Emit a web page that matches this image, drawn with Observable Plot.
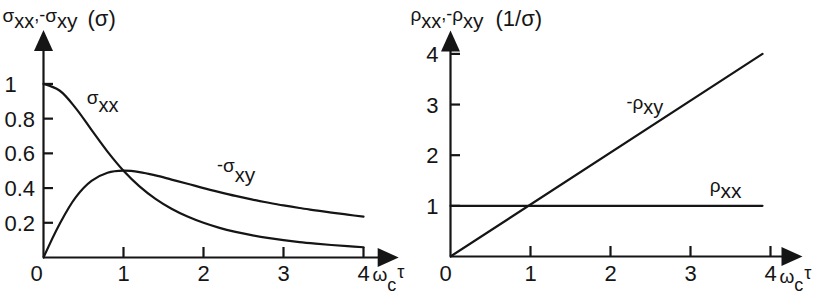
<!DOCTYPE html>
<html><head><meta charset="utf-8">
<script src="https://cdn.jsdelivr.net/npm/d3@7"></script>
<script src="https://cdn.jsdelivr.net/npm/@observablehq/plot@0.6"></script>
<style>
html,body{margin:0;padding:0;background:#fff;}
#chart{display:flex;width:821px;height:301px;overflow:hidden;}
#chart svg{overflow:visible;display:block;}
</style></head><body><div id="chart"></div>
<script>
// ---- data ----
const omegaTau   = [0, 0.2, 0.4, 0.6, 0.8, 1.0, 1.2, 1.4, 1.6, 1.8, 2.0, 2.2, 2.4, 2.6, 2.8, 3.0, 3.2, 3.4, 3.6, 3.8, 4.0];
const sigmaXX    = [1.000, 0.962, 0.862, 0.735, 0.610, 0.500, 0.410, 0.338, 0.281, 0.236, 0.200, 0.171, 0.148, 0.129, 0.113, 0.100, 0.089, 0.080, 0.072, 0.065, 0.059];
const negSigmaXY = [0.000, 0.192, 0.345, 0.441, 0.488, 0.500, 0.492, 0.473, 0.449, 0.425, 0.400, 0.377, 0.355, 0.335, 0.317, 0.300, 0.285, 0.272, 0.259, 0.247, 0.235];
const rhoOmegaTau = [0, 3.9];
const rhoXX       = [1, 1];
const negRhoXY    = [0, 4.0];
const xTicks        = [1, 2, 3, 4];
const xTickLabels   = ["1", "2", "3", "4"];
const sigmaYTicks   = [0.2, 0.4, 0.6, 0.8, 1];
const sigmaYLabels  = ["0.2", "0.4", "0.6", "0.8", "1"];
const rhoYTicks     = [1, 2, 3, 4];
const rhoYLabels    = ["1", "2", "3", "4"];
const originLabel   = "0";

const FONT = '"Liberation Sans", Arial, Helvetica, sans-serif';
const INK = "#151515";
const LW = 2.2;
const TICK_FS = 22;

const ctx = document.createElement("canvas").getContext("2d");
function textWidth(t, size) { ctx.font = `${size}px "Liberation Sans"`; return ctx.measureText(t).width; }

// a run of text pieces (main letters and subscripts) placed one after another
// parts: [text, fontSize, baselineShift, gapBefore]
function frameRun(m, x0, base0, parts) {
  let x = x0; const marks = [];
  for (const [t, size, shift, gap = 0] of parts) {
    x += gap;
    marks.push(Plot.text([t], {text: d => d, frameAnchor: "top-left", dx: x - m.left, dy: base0 + shift - m.top,
      textAnchor: "start", lineAnchor: "bottom", fontSize: size, fill: INK}));
    x += textWidth(t, size);
  }
  return marks;
}
function dataRun(xv, yv, parts) {
  let x = 0; const marks = [];
  for (const [t, size, shift, gap = 0] of parts) {
    x += gap;
    marks.push(Plot.text([t], {x: () => xv, y: () => yv, text: d => d, dx: x, dy: shift,
      textAnchor: "start", lineAnchor: "bottom", fontSize: size, fill: INK}));
    x += textWidth(t, size);
  }
  return marks;
}
function axes(xTip, yTip, yTicks, yLabels, ylabDx, ylabAnchor, zeroDx, xlabDy) {
  return [
    Plot.ruleY([0], {x1: 0, x2: xTip, insetRight: 12, stroke: INK, strokeWidth: LW}),
    Plot.ruleX([0], {y1: yTip, y2: 0, insetTop: 12, stroke: INK, strokeWidth: LW}),
    Plot.vector([0], {x: xTip, y: 0, length: 21, rotate: 90, anchor: "end", shape: "spike", r: 9.5, fill: INK, stroke: "none"}),
    Plot.vector([0], {x: 0, y: yTip, length: 21, rotate: 0, anchor: "end", shape: "spike", r: 9.5, fill: INK, stroke: "none"}),
    Plot.ruleX(xTicks, {x: d => d, y1: 0, y2: 0, insetBottom: 10, stroke: INK, strokeWidth: LW}),
    Plot.ruleY(yTicks, {y: d => d, x1: 0, x2: 0, insetLeft: 10, stroke: INK, strokeWidth: LW}),
    Plot.text(xTicks, {x: d => d, y: 0, text: (d, i) => xTickLabels[i], dy: xlabDy, lineAnchor: "bottom", textAnchor: "middle", fontSize: TICK_FS, fill: INK}),
    Plot.text([originLabel], {x: 0, y: 0, text: d => d, dx: zeroDx, dy: xlabDy, lineAnchor: "bottom", textAnchor: "middle", fontSize: TICK_FS, fill: INK}),
    Plot.text(yTicks, {x: 0, y: d => d, text: (d, i) => yLabels[i], dx: ylabDx, dy: 1, textAnchor: ylabAnchor, lineAnchor: "middle", fontSize: TICK_FS, fill: INK})
  ];
}

// ---- left panel: conductivity ----
const mL = {left: 43, right: 7, top: 14, bottom: 44};
const left = Plot.plot({
  width: 410, height: 301,
  marginLeft: mL.left, marginRight: mL.right, marginTop: mL.top, marginBottom: mL.bottom,
  x: {domain: [0, 4.5], axis: null},
  y: {domain: [0, 1.4], axis: null},
  style: {fontFamily: FONT, background: "white", overflow: "visible"},
  marks: [
    ...axes(4.44, 1.31, sigmaYTicks, sigmaYLabels, -39, "start", -7, 23),
    Plot.line(omegaTau, {x: d => d, y: (d, i) => sigmaXX[i], curve: "catmull-rom", stroke: INK, strokeWidth: LW}),
    Plot.line(omegaTau, {x: d => d, y: (d, i) => negSigmaXY[i], curve: "catmull-rom", stroke: INK, strokeWidth: LW}),
    ...dataRun(0.54, 0.887, [["σ", 19, 0], ["xx", 20, 8]]),
    ...dataRun(2.17, 0.495, [["-", 18, -1], ["σ", 19, 0], ["x", 20, 10], ["y", 21, 10]]),
    ...frameRun(mL, 2, 21, [["σ", 19, 0], ["xx", 20, 6], [",", 18, -1], ["-", 18, -1], ["σ", 19, 0], ["x", 20, 6], ["y", 21, 6]]),
    ...frameRun(mL, 87, 25, [["(σ)", 22, 0]]),
    ...frameRun(mL, 372, 280, [["ω", 19, 0], ["c", 18, 10], ["τ", 18, -3, 1]])
  ]
});

// ---- right panel: resistivity ----
const mR = {left: 40, right: 11, top: 23, bottom: 45};
const right = Plot.plot({
  width: 411, height: 301,
  marginLeft: mR.left, marginRight: mR.right, marginTop: mR.top, marginBottom: mR.bottom,
  x: {domain: [0, 4.5], axis: null},
  y: {domain: [0, 4.6], axis: null},
  style: {fontFamily: FONT, background: "white", overflow: "visible"},
  marks: [
    ...axes(4.4, 4.46, rhoYTicks, rhoYLabels, -12, "end", -5, 24),
    Plot.line(rhoOmegaTau, {x: d => d, y: (d, i) => rhoXX[i], stroke: INK, strokeWidth: LW}),
    Plot.line(rhoOmegaTau, {x: d => d, y: (d, i) => negRhoXY[i], stroke: INK, strokeWidth: LW}),
    ...dataRun(2.2, 2.92, [["-", 18, -1], ["ρ", 19, 0], ["x", 20, 5], ["y", 20, 5]]),
    ...dataRun(3.24, 1.283, [["ρ", 19, 0], ["xx", 21, 6]]),
    ...frameRun(mR, 0, 20, [["ρ", 19, 0], ["xx", 20, 7], [",", 18, -1], ["-", 18, -1], ["ρ", 19, 0], ["x", 20, 7], ["y", 21, 7]]),
    ...frameRun(mR, 85, 25, [["(1/σ)", 22, 0]]),
    ...frameRun(mR, 369, 282, [["ω", 19, 0], ["c", 18, 8], ["τ", 18, -4, 1]])
  ]
});

document.getElementById("chart").append(left, right);
</script>
</body></html>
